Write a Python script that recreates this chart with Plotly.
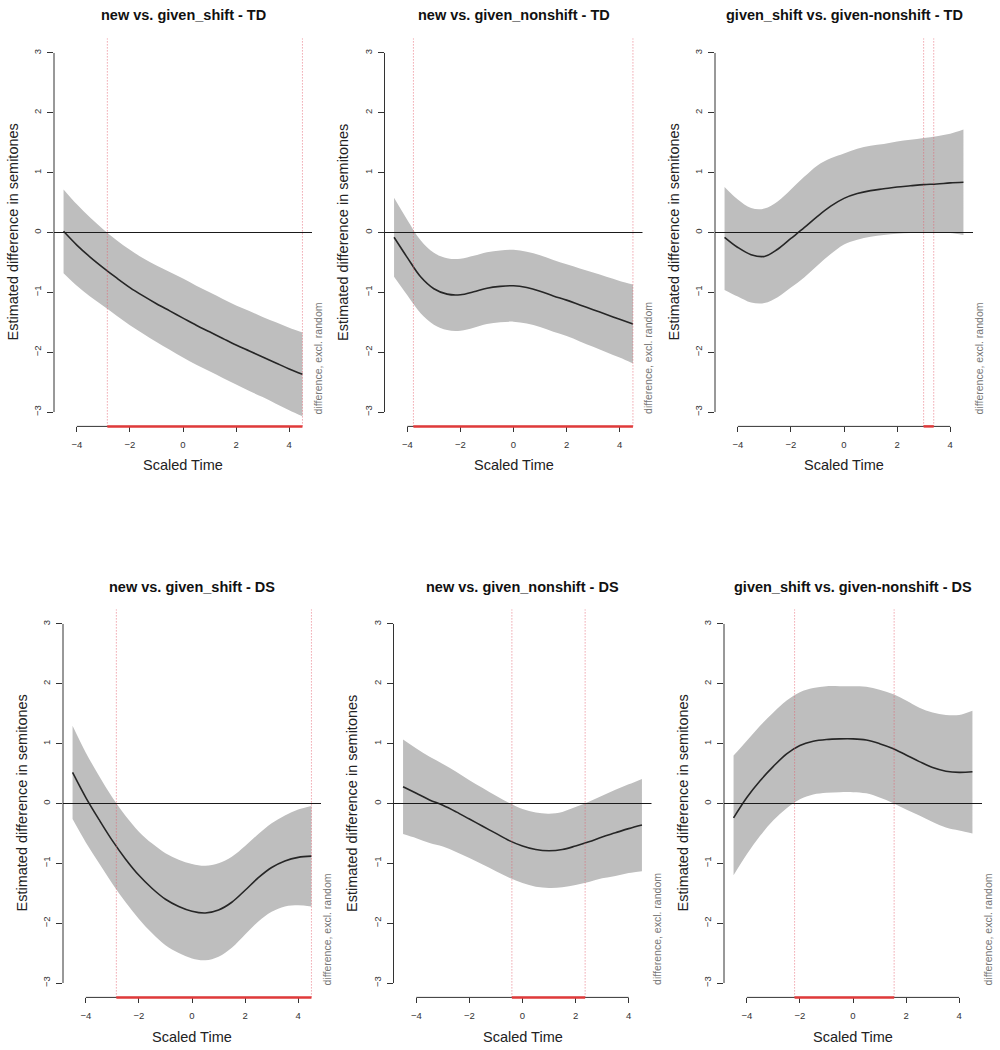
import plotly.graph_objects as go

# ---------------- data ----------------
time = [-4.5, -4.0, -3.5, -3.0, -2.5, -2.0, -1.5, -1.0, -0.5, 0.0,
        0.5, 1.0, 1.5, 2.0, 2.5, 3.0, 3.5, 4.0, 4.5]

titles = [
    "new vs. given_shift - TD",
    "new vs. given_nonshift - TD",
    "given_shift vs. given-nonshift - TD",
    "new vs. given_shift - DS",
    "new vs. given_nonshift - DS",
    "given_shift vs. given-nonshift - DS",
]

# panel 1: new vs. given_shift - TD
fit_1 = [0.02, -0.21, -0.41, -0.59, -0.76, -0.92, -1.06, -1.19, -1.31, -1.43,
         -1.55, -1.66, -1.77, -1.88, -1.98, -2.08, -2.18, -2.28, -2.37]
up_1 = [0.72, 0.47, 0.25, 0.05, -0.13, -0.29, -0.43, -0.55, -0.66, -0.77,
        -0.89, -1.00, -1.11, -1.22, -1.31, -1.41, -1.50, -1.59, -1.67]
lo_1 = [-0.68, -0.89, -1.07, -1.23, -1.39, -1.55, -1.69, -1.83, -1.96, -2.09,
        -2.21, -2.32, -2.43, -2.54, -2.65, -2.75, -2.86, -2.97, -3.07]
sig_1 = [-2.85, 4.5]

# panel 2: new vs. given_nonshift - TD
fit_2 = [-0.08, -0.42, -0.74, -0.94, -1.03, -1.04, -0.99, -0.93, -0.90, -0.89,
         -0.92, -0.98, -1.06, -1.13, -1.21, -1.29, -1.37, -1.45, -1.53]
up_2 = [0.58, 0.21, -0.13, -0.34, -0.43, -0.44, -0.39, -0.33, -0.30, -0.29,
        -0.32, -0.38, -0.46, -0.53, -0.60, -0.67, -0.74, -0.81, -0.87]
lo_2 = [-0.74, -1.05, -1.35, -1.54, -1.63, -1.64, -1.59, -1.53, -1.50, -1.49,
        -1.52, -1.58, -1.66, -1.73, -1.82, -1.91, -2.00, -2.09, -2.19]
sig_2 = [-3.77, 4.5]

# panel 3: given_shift vs. given-nonshift - TD
fit_3 = [-0.08, -0.25, -0.37, -0.40, -0.28, -0.10, 0.08, 0.27, 0.44, 0.57,
         0.65, 0.70, 0.73, 0.76, 0.78, 0.80, 0.81, 0.83, 0.84]
up_3 = [0.76, 0.55, 0.41, 0.40, 0.52, 0.72, 0.93, 1.12, 1.24, 1.32,
        1.40, 1.45, 1.48, 1.52, 1.55, 1.58, 1.61, 1.65, 1.72]
lo_3 = [-0.96, -1.07, -1.17, -1.18, -1.08, -0.92, -0.75, -0.55, -0.36, -0.20,
        -0.12, -0.07, -0.04, -0.02, -0.01, 0.01, 0.00, -0.01, -0.04]
sig_3 = [3.0, 3.38]

# panel 4: new vs. given_shift - DS
fit_4 = [0.52, 0.10, -0.27, -0.62, -0.93, -1.20, -1.42, -1.60, -1.72, -1.80,
         -1.83, -1.78, -1.65, -1.45, -1.24, -1.07, -0.96, -0.90, -0.88]
up_4 = [1.30, 0.85, 0.46, 0.10, -0.21, -0.47, -0.67, -0.83, -0.94, -1.01,
        -1.04, -1.00, -0.89, -0.71, -0.51, -0.33, -0.20, -0.10, -0.04]
lo_4 = [-0.26, -0.65, -1.00, -1.34, -1.65, -1.93, -2.17, -2.37, -2.50, -2.59,
        -2.62, -2.56, -2.41, -2.19, -1.97, -1.81, -1.72, -1.70, -1.72]
sig_4 = [-2.85, 4.5]

# panel 5: new vs. given_nonshift - DS
fit_5 = [0.28, 0.17, 0.06, -0.03, -0.14, -0.26, -0.38, -0.50, -0.62, -0.71,
         -0.77, -0.79, -0.77, -0.71, -0.64, -0.56, -0.49, -0.42, -0.36]
up_5 = [1.07, 0.92, 0.78, 0.66, 0.53, 0.39, 0.26, 0.13, 0.01, -0.09,
        -0.15, -0.17, -0.14, -0.06, 0.03, 0.13, 0.23, 0.32, 0.41]
lo_5 = [-0.51, -0.58, -0.66, -0.72, -0.81, -0.91, -1.02, -1.13, -1.24, -1.33,
        -1.39, -1.41, -1.40, -1.36, -1.31, -1.25, -1.21, -1.16, -1.13]
sig_5 = [-0.40, 2.36]

# panel 6: given_shift vs. given-nonshift - DS
fit_6 = [-0.24, 0.10, 0.38, 0.62, 0.83, 0.97, 1.04, 1.07, 1.08, 1.08,
         1.06, 1.00, 0.92, 0.81, 0.70, 0.60, 0.54, 0.52, 0.53]
up_6 = [0.80, 1.05, 1.30, 1.52, 1.72, 1.86, 1.93, 1.96, 1.96, 1.96,
        1.95, 1.90, 1.83, 1.72, 1.60, 1.52, 1.48, 1.48, 1.55]
lo_6 = [-1.20, -0.85, -0.54, -0.28, -0.08, 0.07, 0.15, 0.18, 0.19, 0.19,
        0.17, 0.10, 0.01, -0.10, -0.20, -0.31, -0.40, -0.45, -0.50]
sig_6 = [-2.20, 1.55]

x_ticks = [-4, -2, 0, 2, 4]
y_ticks = [-3, -2, -1, 0, 1, 2, 3]
x_label = "Scaled Time"
y_label = "Estimated difference in semitones"
side_label = "difference, excl. random"

fits = [fit_1, fit_2, fit_3, fit_4, fit_5, fit_6]
ups = [up_1, up_2, up_3, up_4, up_5, up_6]
los = [lo_1, lo_2, lo_3, lo_4, lo_5, lo_6]
sigs = [sig_1, sig_2, sig_3, sig_4, sig_5, sig_6]

# ---------------- layout geometry (pixels) ----------------
W, H = 1000, 1050
FONT = "Liberation Sans, Arial, Helvetica, sans-serif"
PW = 258           # plot-region width
ROW_TOP = [(38.6, 426.4), (609.6, 997.4)]
COL_LEFT = [[54, 384.5, 715], [63, 393.5, 724]]
TITLE_Y = [15, 587]
XLAB_Y = [465, 1037]

def fx(p):
    return p / W

def fy(p):
    return 1 - p / H

fig = go.Figure()
shapes = []
annotations = []

for k in range(6):
    r, c = divmod(k, 3)
    n = k + 1
    xa = "x" if n == 1 else f"x{n}"
    ya = "y" if n == 1 else f"y{n}"
    xkey = "xaxis" if n == 1 else f"xaxis{n}"
    ykey = "yaxis" if n == 1 else f"yaxis{n}"
    left = COL_LEFT[r][c]
    top, bot = ROW_TOP[r]

    # confidence band
    fig.add_trace(go.Scatter(x=time, y=los[k], mode="lines",
                             line=dict(width=0, shape="spline", smoothing=1.0),
                             hoverinfo="skip", showlegend=False,
                             xaxis=xa, yaxis=ya))
    fig.add_trace(go.Scatter(x=time, y=ups[k], mode="lines", fill="tonexty",
                             fillcolor="#bebebe",
                             line=dict(width=0, shape="spline", smoothing=1.0),
                             hoverinfo="skip", showlegend=False,
                             xaxis=xa, yaxis=ya))
    # estimate
    fig.add_trace(go.Scatter(x=time, y=fits[k], mode="lines",
                             line=dict(color="#262626", width=1.6,
                                       shape="spline", smoothing=1.0),
                             showlegend=False, xaxis=xa, yaxis=ya))

    fig.layout[xkey] = dict(
        domain=[fx(left), fx(left + PW)], range=[-4.86, 4.86], anchor=ya,
        showgrid=False, zeroline=False, showline=False,
        tickvals=x_ticks, ticks="outside", ticklen=5, tickwidth=1,
        ticklabelstandoff=4,
        tickcolor="#333", tickfont=dict(family=FONT, size=9.5, color="#333"),
        fixedrange=True)
    fig.layout[ykey] = dict(
        domain=[fy(bot), fy(top)], range=[-3.24, 3.24], anchor=xa,
        showgrid=False, zeroline=False, showline=False,
        tickvals=y_ticks, ticks="outside", ticklen=6, tickwidth=1,
        ticklabelstandoff=2,
        tickangle=-90, tickcolor="#333",
        tickfont=dict(family=FONT, size=9.5, color="#333"), fixedrange=True)

    # R-style axis lines
    shapes.append(dict(type="line", xref=f"{xa} domain", yref=ya,
                       x0=0, x1=0, y0=y_ticks[0], y1=y_ticks[-1],
                       line=dict(color="#333", width=1)))
    shapes.append(dict(type="line", xref=xa, yref=f"{ya} domain",
                       x0=x_ticks[0], x1=x_ticks[-1], y0=0, y1=0,
                       line=dict(color="#333", width=1)))
    # zero line
    shapes.append(dict(type="line", xref=f"{xa} domain", yref=ya,
                       x0=0, x1=1, y0=0, y1=0,
                       line=dict(color="#1a1a1a", width=1)))
    # significance markers
    for sx in sigs[k]:
        shapes.append(dict(type="line", xref=xa, yref=f"{ya} domain",
                           x0=sx, x1=sx, y0=0, y1=1,
                           line=dict(color="rgba(228,90,105,0.8)", width=1,
                                     dash="1px,2px")))
    shapes.append(dict(type="line", xref=xa, yref=f"{ya} domain",
                       x0=sigs[k][0], x1=sigs[k][1], y0=0, y1=0,
                       line=dict(color="#e03a3a", width=2.5)))

    # texts
    annotations.append(dict(text=f"<b>{titles[k]}</b>", xref="paper",
                            yref="paper", x=fx(left + PW / 2),
                            y=fy(TITLE_Y[r]), xanchor="center",
                            yanchor="middle", showarrow=False,
                            font=dict(family=FONT, size=14.5, color="#111")))
    annotations.append(dict(text=x_label, xref="paper", yref="paper",
                            x=fx(left + PW / 2), y=fy(XLAB_Y[r]),
                            xanchor="center", yanchor="middle",
                            showarrow=False,
                            font=dict(family=FONT, size=14.5, color="#222")))
    annotations.append(dict(text=y_label, xref="paper", yref=ya,
                            x=fx(left - 42), y=0, textangle=-90,
                            xanchor="center", yanchor="middle",
                            showarrow=False,
                            font=dict(family=FONT, size=14.5, color="#222")))
    annotations.append(dict(text=side_label, xref="paper", yref="paper",
                            x=fx(left + PW + 6), y=fy(bot - 10),
                            textangle=-90, xanchor="center",
                            yanchor="bottom", showarrow=False,
                            font=dict(family=FONT, size=10.5, color="#777")))

fig.update_layout(width=W, height=H, margin=dict(l=0, r=0, t=0, b=0),
                  paper_bgcolor="white", plot_bgcolor="white",
                  shapes=shapes, annotations=annotations, showlegend=False)

fig.write_html("out.html")
